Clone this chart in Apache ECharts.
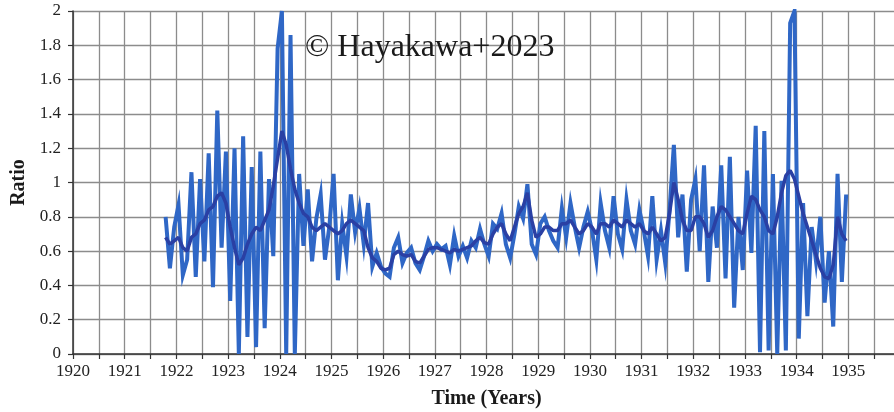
<!DOCTYPE html>
<html>
<head>
<meta charset="utf-8">
<script src="https://cdn.jsdelivr.net/npm/echarts@6/dist/echarts.min.js"></script>
<style>
  html, body { margin: 0; padding: 0; background: #ffffff; }
  #chart { width: 894px; height: 412px; }
</style>
</head>
<body>
<div id="chart"></div>
<script>
// Monthly sunspot-area ratio, October 1921 through December 1934
const startYear = 1921;
const startMonth = 10; // October

const ratio = [
  0.80, 0.50, 0.74,
  0.87, 0.46, 0.55, 1.06, 0.45, 1.02, 0.54, 1.17, 0.39, 1.42, 0.62, 1.18,
  0.31, 1.20, 0.00, 1.27, 0.10, 1.09, 0.04, 1.18, 0.15, 1.02, 0.57, 1.78,
  2.00, 0.00, 1.86, 0.00, 1.05, 0.63, 0.96, 0.54, 0.79, 0.93, 0.55, 0.74,
  1.05, 0.43, 0.76, 0.57, 0.93, 0.71, 0.85, 0.64, 0.88, 0.51, 0.59, 0.51,
  0.47, 0.45, 0.62, 0.68, 0.53, 0.59, 0.62, 0.53, 0.49, 0.57, 0.66, 0.60,
  0.64, 0.61, 0.63, 0.52, 0.69, 0.57, 0.63, 0.56, 0.66, 0.62, 0.73, 0.64,
  0.57, 0.76, 0.73, 0.82, 0.64, 0.56, 0.70, 0.86, 0.79, 0.99, 0.64, 0.58,
  0.76, 0.80, 0.72, 0.66, 0.62, 0.85, 0.68, 0.88, 0.74, 0.62, 0.74, 0.83,
  0.72, 0.55, 0.88, 0.72, 0.62, 0.92, 0.70, 0.61, 0.90, 0.72, 0.64, 0.84,
  0.72, 0.57, 0.92, 0.55, 0.72, 0.53, 0.84, 1.22, 0.68, 0.93, 0.48, 0.90,
  1.02, 0.60, 1.10, 0.42, 0.86, 0.62, 1.10, 0.44, 1.15, 0.27, 0.80, 0.49,
  1.07, 0.59, 1.33, 0.01, 1.30, 0.02, 1.05, 0.00, 1.01, 0.02, 1.93, 2.00,
  0.09, 0.88, 0.22, 0.74, 0.54, 0.80, 0.30, 0.60, 0.16, 1.05, 0.42, 0.93
];

// Smoothed ratio for the same months
const ratioSmoothed = [
  0.68, 0.64, 0.66,
  0.68, 0.62, 0.60, 0.68, 0.70, 0.76, 0.78, 0.84, 0.86, 0.92, 0.94, 0.88,
  0.74, 0.62, 0.52, 0.56, 0.64, 0.70, 0.74, 0.72, 0.78, 0.84, 0.98, 1.14,
  1.30, 1.22, 1.08, 0.96, 0.88, 0.82, 0.80, 0.74, 0.72, 0.74, 0.76, 0.74,
  0.72, 0.70, 0.72, 0.76, 0.78, 0.76, 0.74, 0.72, 0.62, 0.56, 0.54, 0.50,
  0.49, 0.50, 0.58, 0.60, 0.58, 0.57, 0.58, 0.54, 0.53, 0.57, 0.61, 0.62,
  0.62, 0.61, 0.60, 0.59, 0.61, 0.60, 0.61, 0.62, 0.63, 0.66, 0.68, 0.65,
  0.64, 0.70, 0.74, 0.76, 0.70, 0.66, 0.74, 0.82, 0.86, 0.94, 0.78, 0.68,
  0.70, 0.74, 0.74, 0.72, 0.72, 0.76, 0.76, 0.78, 0.74, 0.70, 0.72, 0.76,
  0.74, 0.70, 0.76, 0.76, 0.74, 0.78, 0.76, 0.74, 0.78, 0.76, 0.74, 0.76,
  0.72, 0.70, 0.74, 0.70, 0.66, 0.68, 0.82, 1.00, 0.90, 0.78, 0.72, 0.72,
  0.80, 0.80, 0.76, 0.68, 0.72, 0.80, 0.86, 0.84, 0.80, 0.76, 0.72, 0.70,
  0.82, 0.92, 0.90, 0.84, 0.80, 0.72, 0.70, 0.80, 0.94, 1.04, 1.07, 1.02,
  0.92, 0.82, 0.74, 0.66, 0.58, 0.50, 0.45, 0.44, 0.52, 0.80, 0.70, 0.66
];

const xTickYears = [1920, 1921, 1922, 1923, 1924, 1925, 1926, 1927,
  1928, 1929, 1930, 1931, 1932, 1933, 1934, 1935];
const yTicks = [0, 0.2, 0.4, 0.6, 0.8, 1, 1.2, 1.4, 1.6, 1.8, 2];

// decimal year at the middle of each month
function monthTime(k) {
  const m = startMonth - 1 + k;
  return startYear + Math.floor(m / 12) + ((m % 12) + 0.5) / 12;
}
const rawPairs = ratio.map((v, k) => [monthTime(k), v]);
const smoothPairs = ratioSmoothed.map((v, k) => [monthTime(k), v]);

const serif = '"Liberation Serif", "Times New Roman", serif';
const chart = echarts.init(document.getElementById('chart'), null, { renderer: 'canvas' });

chart.setOption({
  backgroundColor: '#ffffff',
  animation: false,
  grid: {
    left: 73, right: -6, top: 11, bottom: 58,
    containLabel: false,
    outerBoundsMode: 'none'
  },
  xAxis: {
    type: 'value',
    min: 1920,
    max: 1936,
    interval: 0.5,
    name: 'Time (Years)',
    nameLocation: 'middle',
    nameGap: 35,
    nameTextStyle: { fontFamily: serif, fontWeight: 'bold', fontSize: 20, color: '#1a1a1a' },
    axisLine: { lineStyle: { color: '#333333', width: 1.5 } },
    axisTick: { show: true, length: 5, lineStyle: { color: '#333333', width: 1.2 } },
    axisLabel: {
      margin: 9,
      fontFamily: serif,
      fontSize: 17,
      color: '#222222',
      formatter: v => (xTickYears.includes(v) ? String(v) : '')
    },
    splitLine: { show: true, lineStyle: { color: '#8c8c8c', width: 1.3 } }
  },
  yAxis: {
    type: 'value',
    min: 0,
    max: 2,
    interval: 0.2,
    name: 'Ratio',
    nameLocation: 'middle',
    nameGap: 43,
    nameTextStyle: { fontFamily: serif, fontWeight: 'bold', fontSize: 20, color: '#1a1a1a' },
    axisLine: { show: true, lineStyle: { color: '#333333', width: 1.5 } },
    axisTick: { show: true, length: 5, lineStyle: { color: '#333333', width: 1.2 } },
    axisLabel: {
      margin: 12,
      fontFamily: serif,
      fontSize: 17,
      color: '#222222',
      formatter: v => {
        const t = yTicks.find(y => Math.abs(y - v) < 1e-6);
        return t === undefined ? '' : String(t);
      }
    },
    splitLine: { show: true, lineStyle: { color: '#8c8c8c', width: 1.3 } }
  },
  series: [
    {
      name: 'Monthly',
      type: 'line',
      data: rawPairs,
      showSymbol: false,
      symbol: 'none',
      clip: true,
      lineStyle: { color: '#2f67c6', width: 4, join: 'miter' },
      z: 2
    },
    {
      name: 'Smoothed',
      type: 'line',
      data: smoothPairs,
      showSymbol: false,
      symbol: 'none',
      clip: true,
      lineStyle: { color: '#2a40a4', width: 3.5 },
      z: 3
    }
  ],
  graphic: [
    {
      type: 'text',
      left: 305,
      top: 32,
      z: 10,
      style: {
        text: '\u00A9 Hayakawa+2023',
        font: '32px ' + serif,
        fill: '#1a1a1a'
      }
    }
  ]
});
</script>
</body>
</html>
